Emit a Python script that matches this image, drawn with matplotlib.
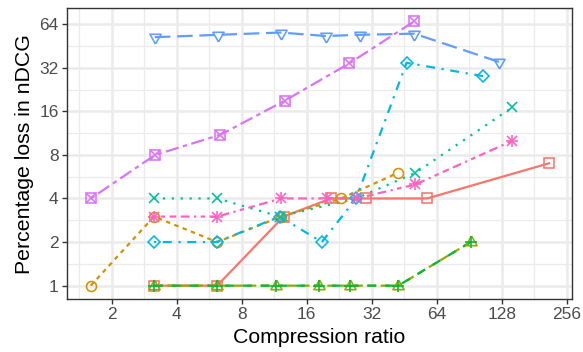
import matplotlib
matplotlib.use("Agg")
import matplotlib.pyplot as plt
import numpy as np

# compression ratio (x) and percentage loss in nDCG (y), one pair per method
red_x = [3.14, 6.16, 12.5, 20.7, 30.1, 57.7, 212]
red_y = [1, 1, 3, 4, 4, 4, 7]
gold_x = [1.6, 3.14, 6.16, 12.2, 23.1, 42.2]
gold_y = [1, 3, 2, 3, 4, 6]
olive_x = [3.14, 6.16, 11.5, 18.3, 25.5, 42.5, 91.9]
olive_y = [1, 1, 1, 1, 1, 1, 2]
green_x = [3.14, 6.16, 11.5, 18.3, 25.5, 42.5, 91.9]
green_y = [1, 1, 1, 1, 1, 1, 2]
teal_x = [3.14, 6.16, 12.0, 27.1, 50.9, 143]
teal_y = [4, 4, 3, 4, 6, 17]
cyan_x = [3.14, 6.13, 12.0, 18.8, 27.1, 46.4, 104.8]
cyan_y = [2, 2, 3, 2, 4, 34.6, 28]
blue_x = [3.17, 6.21, 12.1, 19.6, 28.2, 50.4, 125]
blue_y = [52, 54, 56, 53, 54, 55, 35]
purple_x = [1.6, 3.18, 6.36, 12.7, 25.2, 50.4]
purple_y = [4, 8, 11, 19, 34.3, 67]
pink_x = [3.14, 6.16, 12.2, 19.9, 27.3, 51, 143]
pink_y = [3, 3, 4, 4, 4, 5, 10]

x_ticks = [2, 4, 8, 16, 32, 64, 128, 256]
y_ticks = [1, 2, 4, 8, 16, 32, 64]

# triangles centred on centroid like R's pch 2 / 6
tri_up = [(0, 1), (-0.866, -0.5), (0.866, -0.5), (0, 1)]
tri_dn = [(0, -1), (-0.866, 0.5), (0.866, 0.5), (0, -1)]

series = [
    (red_x, red_y, "#F8766D", "-", ["s"]),
    (gold_x, gold_y, "#D39200", (0, (2, 2)), ["o"]),
    (olive_x, olive_y, "#93AA00", (0, (4, 2)), [tri_up]),
    (green_x, green_y, "#00BA38", (0, (4, 4)), ["+"]),
    (teal_x, teal_y, "#00C19F", (0, (1, 3)), ["x"]),
    (cyan_x, cyan_y, "#00B9E3", (0, (1, 3, 4, 3)), ["D"]),
    (blue_x, blue_y, "#619CFF", (0, (7, 3)), [tri_dn]),
    (purple_x, purple_y, "#DB72FB", (0, (2, 2, 6, 2)), ["s", "x"]),
    (pink_x, pink_y, "#FF61C3", (0, (1, 2, 2, 2, 3, 2, 4, 2)), ["+", "x"]),
]

plt.rcParams["font.family"] = ["Liberation Sans", "DejaVu Sans"]

fig = plt.figure(figsize=(5.83, 3.52), dpi=100)
ax = fig.add_axes([0.115, 0.151, 0.866, 0.825])

lw = 1.6
for xs, ys, col, ls, marks in series:
    ax.plot(xs, ys, color=col, linestyle=ls, linewidth=lw, zorder=3)

msize = {"s": 7.2, "o": 7.2, "+": 9, "x": 7, "D": 6.2}
for xs, ys, col, ls, marks in series:
    for m in marks:
        if isinstance(m, list):
            ms = 9.3
        else:
            ms = msize[m]
            if m == "x" and len(marks) == 2:
                ms = 6.6
        ax.plot(xs, ys, linestyle="none", marker=m, markersize=ms,
                markerfacecolor="none", markeredgecolor=col,
                markeredgewidth=1.15, zorder=4)

ax.set_xscale("log", base=2)
ax.set_yscale("log", base=2)
ax.set_xlim(2 ** 0.313, 2 ** 8.08)
ax.set_ylim(2 ** -0.303, 2 ** 6.36)

ax.set_xticks(x_ticks)
ax.set_xticklabels([str(t) for t in x_ticks])
ax.set_yticks(y_ticks)
ax.set_yticklabels([str(t) for t in y_ticks])
ax.set_xticks([2 ** (k + 0.5) for k in range(0, 8)], minor=True)
ax.set_yticks([2 ** (k + 0.5) for k in range(0, 6)], minor=True)
ax.xaxis.set_minor_formatter(matplotlib.ticker.NullFormatter())
ax.yaxis.set_minor_formatter(matplotlib.ticker.NullFormatter())

ax.grid(which="major", color="#EBEBEB", linewidth=1.8, zorder=0)
ax.grid(which="minor", color="#EBEBEB", linewidth=0.9, zorder=0)
ax.set_axisbelow(True)

ax.tick_params(which="major", length=3.5, width=1.0, color="#333333",
               labelsize=12.5, labelcolor="#4D4D4D", pad=2.5)
ax.tick_params(which="minor", length=0)
for sp in ax.spines.values():
    sp.set_color("#333333")
    sp.set_linewidth(1.0)

ax.set_xlabel("Compression ratio", fontsize=15.3, labelpad=4)
ax.set_ylabel("Percentage loss in nDCG", fontsize=15.3, labelpad=4)

fig.savefig("out.png", dpi=100)
